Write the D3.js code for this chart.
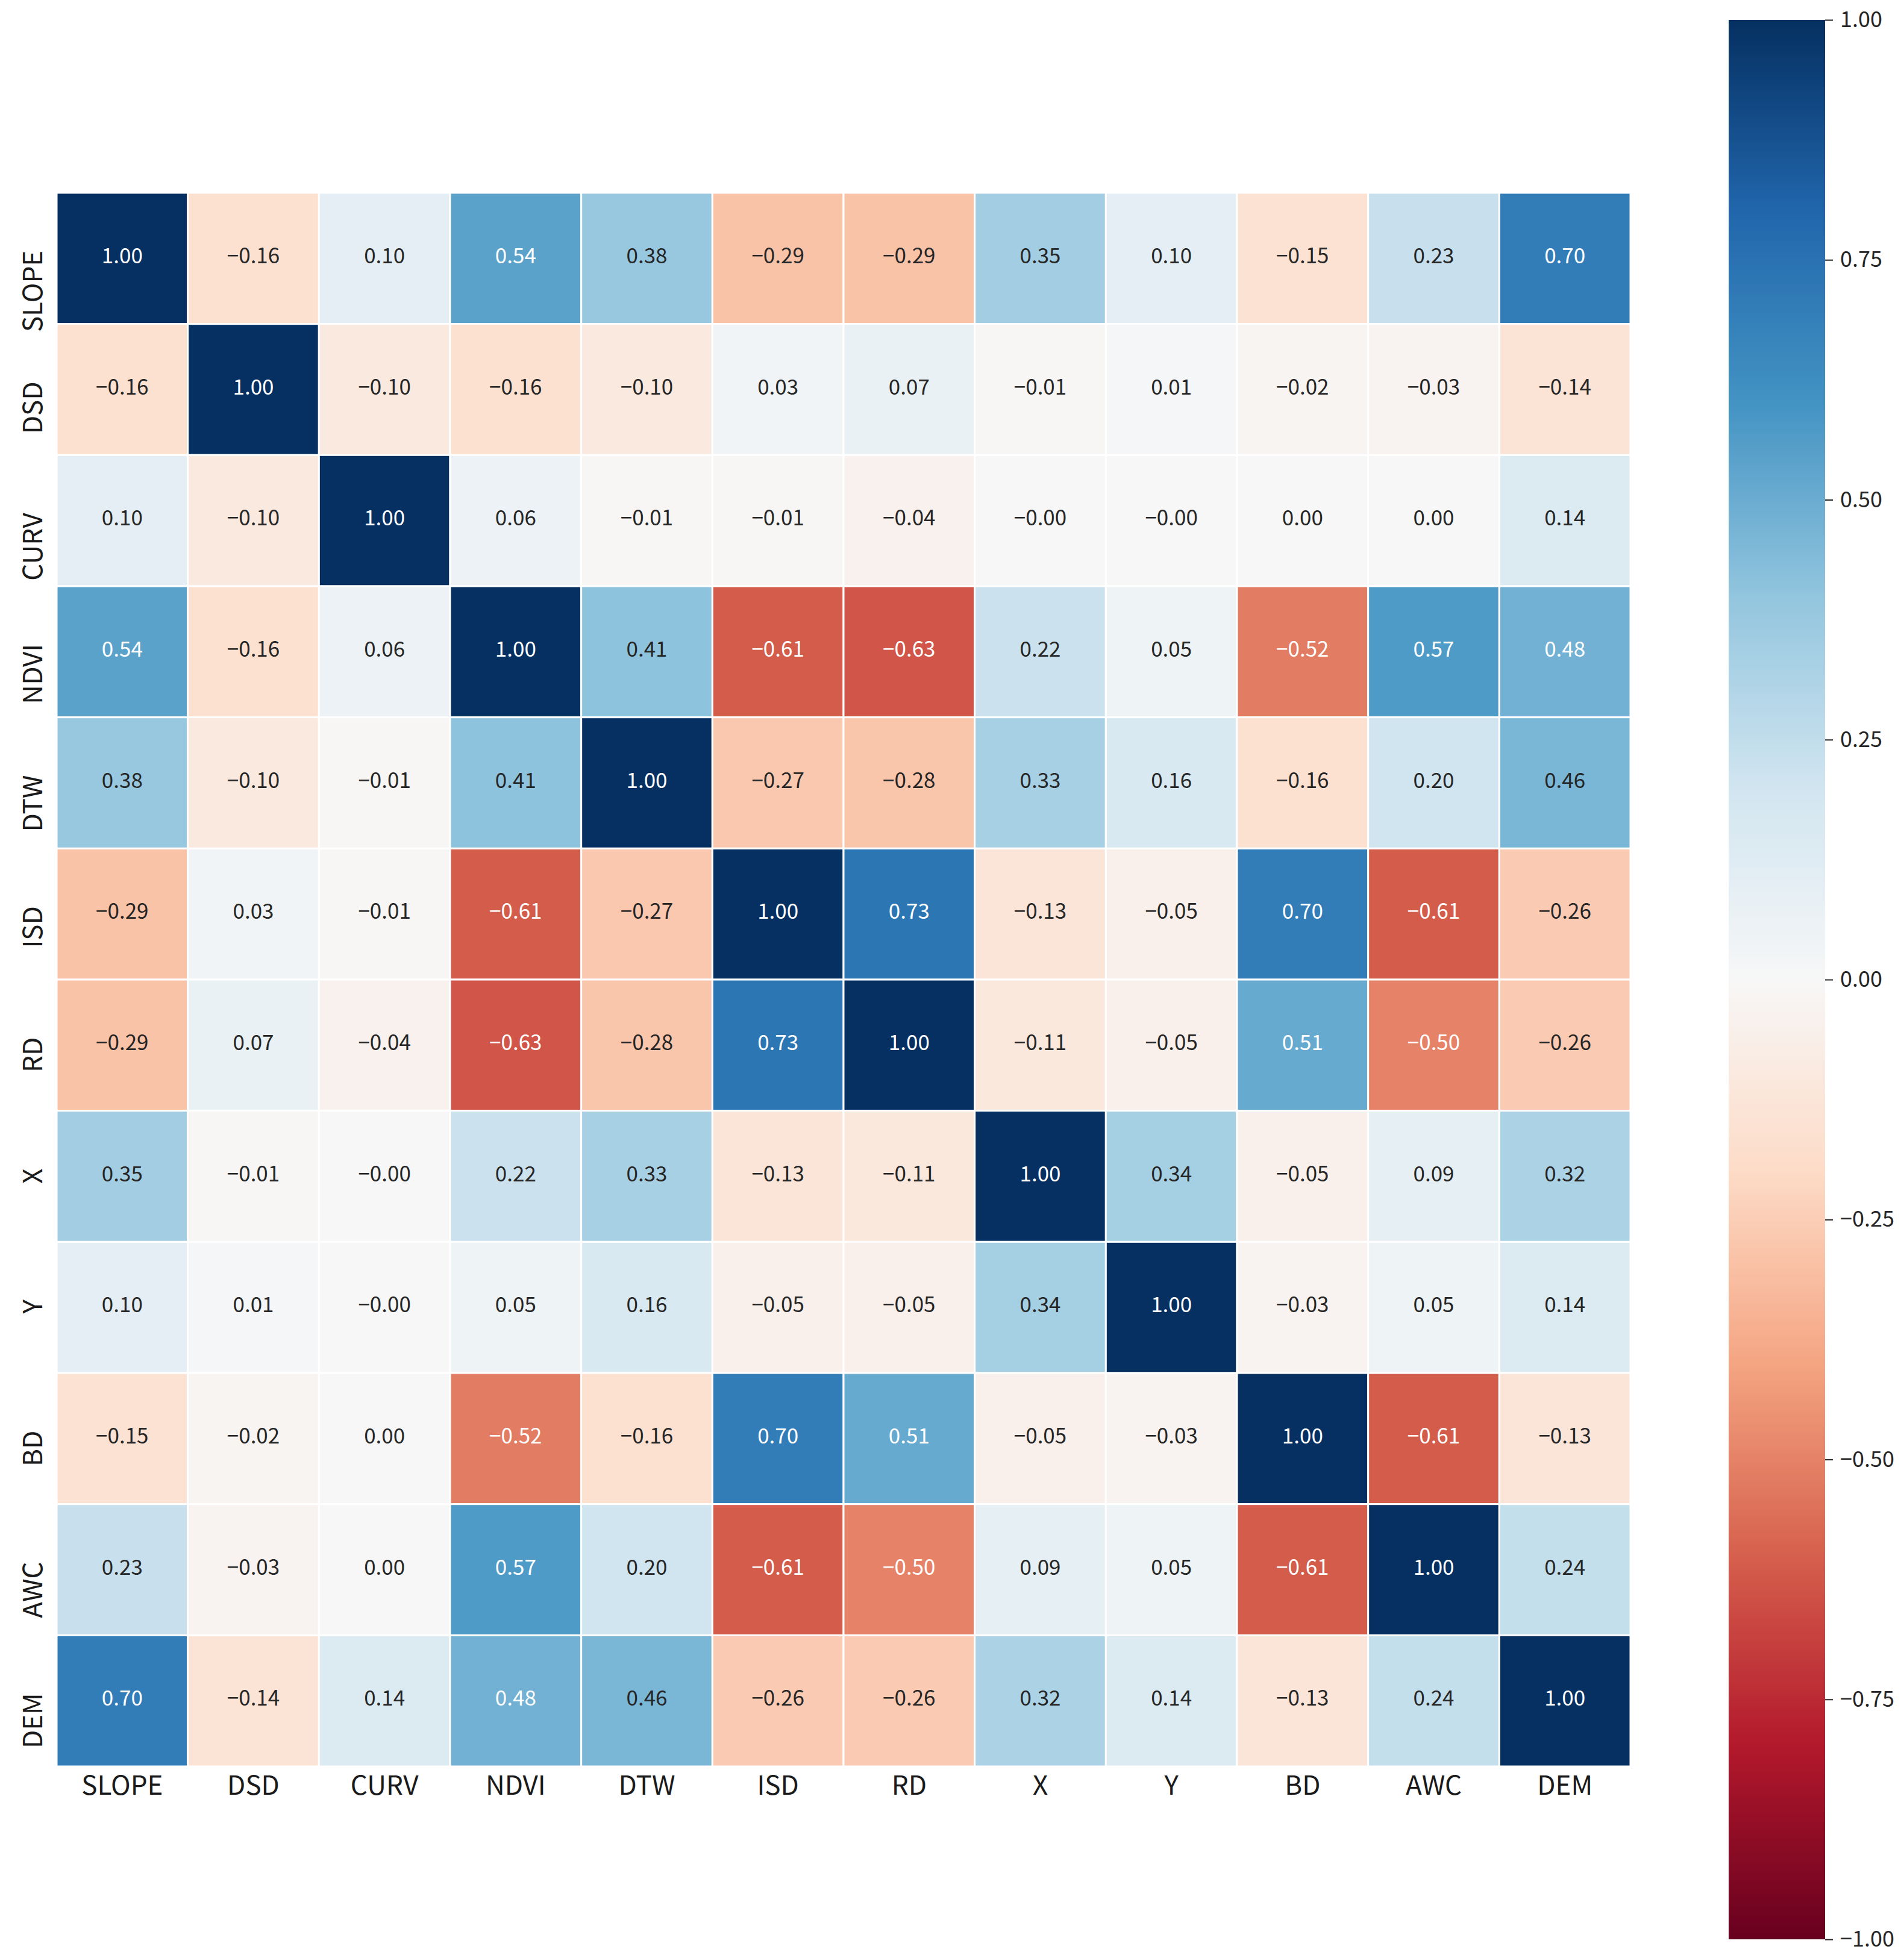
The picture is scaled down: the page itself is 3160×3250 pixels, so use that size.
<!DOCTYPE html>
<html>
<head>
<meta charset="utf-8">
<script src="https://cdn.jsdelivr.net/npm/d3@7"></script>
<style>
  body { margin: 0; background: #fff; }
  text { font-family: "Noto Sans CJK SC", "Noto Sans", sans-serif; }
</style>
</head>
<body>
<div id="chart"></div>
<script>
// variable names, same order on both axes
const variables = ["SLOPE", "DSD", "CURV", "NDVI", "DTW", "ISD", "RD", "X", "Y", "BD", "AWC", "DEM"];

// correlation rows (-0 keeps the "−0.00" labels)
const rowSLOPE = [1.00, -0.16, 0.10, 0.54, 0.38, -0.29, -0.29, 0.35, 0.10, -0.15, 0.23, 0.70];
const rowDSD   = [-0.16, 1.00, -0.10, -0.16, -0.10, 0.03, 0.07, -0.01, 0.01, -0.02, -0.03, -0.14];
const rowCURV  = [0.10, -0.10, 1.00, 0.06, -0.01, -0.01, -0.04, -0, -0, 0.00, 0.00, 0.14];
const rowNDVI  = [0.54, -0.16, 0.06, 1.00, 0.41, -0.61, -0.63, 0.22, 0.05, -0.52, 0.57, 0.48];
const rowDTW   = [0.38, -0.10, -0.01, 0.41, 1.00, -0.27, -0.28, 0.33, 0.16, -0.16, 0.20, 0.46];
const rowISD   = [-0.29, 0.03, -0.01, -0.61, -0.27, 1.00, 0.73, -0.13, -0.05, 0.70, -0.61, -0.26];
const rowRD    = [-0.29, 0.07, -0.04, -0.63, -0.28, 0.73, 1.00, -0.11, -0.05, 0.51, -0.50, -0.26];
const rowX     = [0.35, -0.01, -0, 0.22, 0.33, -0.13, -0.11, 1.00, 0.34, -0.05, 0.09, 0.32];
const rowY     = [0.10, 0.01, -0, 0.05, 0.16, -0.05, -0.05, 0.34, 1.00, -0.03, 0.05, 0.14];
const rowBD    = [-0.15, -0.02, 0.00, -0.52, -0.16, 0.70, 0.51, -0.05, -0.03, 1.00, -0.61, -0.13];
const rowAWC   = [0.23, -0.03, 0.00, 0.57, 0.20, -0.61, -0.50, 0.09, 0.05, -0.61, 1.00, 0.24];
const rowDEM   = [0.70, -0.14, 0.14, 0.48, 0.46, -0.26, -0.26, 0.32, 0.14, -0.13, 0.24, 1.00];

const colorbarTicks = [1.00, 0.75, 0.50, 0.25, 0.00, -0.25, -0.50, -0.75, -1.00];

// matplotlib RdBu (ColorBrewer 11, linear between anchors)
const rdbu = ["#67001f", "#b2182b", "#d6604d", "#f4a582", "#fddbc7", "#f7f7f7",
              "#d1e5f0", "#92c5de", "#4393c3", "#2166ac", "#053061"];

const rows = [rowSLOPE, rowDSD, rowCURV, rowNDVI, rowDTW, rowISD, rowRD, rowX, rowY, rowBD, rowAWC, rowDEM];

const width = 3160, height = 3250;
const heat = { left: 94, top: 320, size: 2612 };
const cbar = { x: 2869, y: 33, w: 160, h: 3186 };

const color = d3.scaleLinear()
    .domain(d3.range(11).map(i => -1 + i * 0.2))
    .range(rdbu)
    .interpolate(d3.interpolateRgb)
    .clamp(true);

const fmt = v => (v < 0 || Object.is(v, -0) ? "\u2212" : "") + Math.abs(v).toFixed(2);

function luminance(c) {
    const rgb = d3.rgb(c);
    const lin = [rgb.r, rgb.g, rgb.b].map(v => {
        v = v / 255;
        return v <= 0.03928 ? v / 12.92 : Math.pow((v + 0.055) / 1.055, 2.4);
    });
    return 0.2126 * lin[0] + 0.7152 * lin[1] + 0.0722 * lin[2];
}

const svg = d3.select("#chart").append("svg")
    .attr("width", width)
    .attr("height", height);

const x = d3.scaleBand().domain(variables).range([heat.left, heat.left + heat.size]);
const y = d3.scaleBand().domain(variables).range([heat.top, heat.top + heat.size]);

const cells = [];
rows.forEach((r, i) => r.forEach((v, j) => cells.push({ row: variables[i], col: variables[j], value: v })));

const g = svg.append("g");

g.selectAll("rect")
    .data(cells)
    .enter()
    .append("rect")
    .attr("x", d => x(d.col))
    .attr("y", d => y(d.row))
    .attr("width", x.bandwidth())
    .attr("height", y.bandwidth())
    .attr("fill", d => color(d.value))
    .attr("stroke", "#ffffff")
    .attr("stroke-width", 3);

g.selectAll("text.annot")
    .data(cells)
    .enter()
    .append("text")
    .attr("class", "annot")
    .attr("x", d => x(d.col) + x.bandwidth() / 2)
    .attr("y", d => y(d.row) + y.bandwidth() / 2 + 8)
    .attr("text-anchor", "middle")
    .attr("font-size", 35)
    .attr("fill", d => luminance(color(d.value)) > 0.408 ? "#262626" : "#ffffff")
    .text(d => fmt(d.value));

// axis labels
svg.append("g")
    .selectAll("text")
    .data(variables)
    .enter()
    .append("text")
    .attr("x", d => x(d) + x.bandwidth() / 2)
    .attr("y", heat.top + heat.size + 47)
    .attr("text-anchor", "middle")
    .attr("font-size", 44)
    .attr("fill", "#1a1a1a")
    .text(d => d);

// y labels: top end of the rotated text sits a little above the row centre
svg.append("g")
    .selectAll("text")
    .data(variables)
    .enter()
    .append("text")
    .attr("transform", d => `translate(70, ${y(d) + y.bandwidth() / 2 - 13}) rotate(-90)`)
    .attr("text-anchor", "end")
    .attr("font-size", 44)
    .attr("fill", "#1a1a1a")
    .text(d => d);

// colour bar
const defs = svg.append("defs");
const grad = defs.append("linearGradient")
    .attr("id", "cbar-grad")
    .attr("x1", "0%").attr("y1", "0%")
    .attr("x2", "0%").attr("y2", "100%");

grad.selectAll("stop")
    .data(d3.range(0, 1.0001, 0.01))
    .enter()
    .append("stop")
    .attr("offset", t => `${t * 100}%`)
    .attr("stop-color", t => color(1 - 2 * t));

svg.append("rect")
    .attr("x", cbar.x)
    .attr("y", cbar.y)
    .attr("width", cbar.w)
    .attr("height", cbar.h)
    .attr("fill", "url(#cbar-grad)");

const cScale = d3.scaleLinear().domain([-1, 1]).range([cbar.y + cbar.h, cbar.y]);
const cAxis = svg.append("g")
    .attr("transform", `translate(${cbar.x + cbar.w}, 0)`)
    .call(d3.axisRight(cScale)
        .tickValues(colorbarTicks)
        .tickSize(13)
        .tickPadding(12)
        .tickFormat(fmt));

cAxis.select(".domain").remove();
cAxis.selectAll(".tick line").attr("stroke", "#262626").attr("stroke-width", 2);
cAxis.selectAll(".tick text")
    .attr("font-size", 36)
    .attr("font-family", "Noto Sans CJK SC, Noto Sans, sans-serif")
    .attr("fill", "#262626");
</script>
</body>
</html>
